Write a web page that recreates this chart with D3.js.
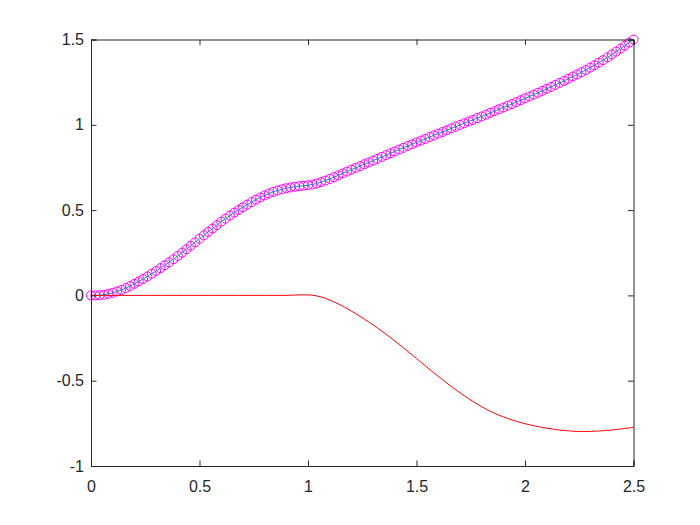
<!DOCTYPE html>
<html>
<head>
<meta charset="utf-8">
<script src="https://cdn.jsdelivr.net/npm/d3@7"></script>
<style>
  html, body { margin: 0; padding: 0; background: #fff; }
  svg { display: block; }
  text { font-family: "Liberation Sans", Arial, Helvetica, sans-serif; }
</style>
</head>
<body>
<script>
// x samples: 0 to 2.5, step 0.02 (126 points)
const xValues = d3.range(126).map(i => +(i * 0.02).toFixed(2));

// Blue curve with magenta circle markers
const blueValues = [
  0.000, 0.000, 0.001, 0.004, 0.009, 0.015, 0.023, 0.032, 0.043, 0.055,
  0.068, 0.082, 0.096, 0.111, 0.127, 0.143, 0.160, 0.177, 0.194, 0.212,
  0.231, 0.251, 0.271, 0.291, 0.311, 0.332, 0.352, 0.372, 0.392, 0.412,
  0.432, 0.450, 0.468, 0.485, 0.501, 0.517, 0.532, 0.547, 0.561, 0.574,
  0.586, 0.597, 0.607, 0.615, 0.622, 0.628, 0.633, 0.637, 0.640, 0.643,
  0.646, 0.650, 0.656, 0.664, 0.673, 0.683, 0.693, 0.704, 0.715, 0.726,
  0.737, 0.748, 0.758, 0.769, 0.779, 0.790, 0.801, 0.812, 0.822, 0.833,
  0.844, 0.855, 0.865, 0.876, 0.886, 0.897, 0.907, 0.917, 0.928, 0.938,
  0.948, 0.958, 0.968, 0.979, 0.989, 0.999, 1.009, 1.019, 1.029, 1.039,
  1.049, 1.059, 1.070, 1.080, 1.091, 1.101, 1.112, 1.122, 1.133, 1.144,
  1.155, 1.166, 1.177, 1.188, 1.199, 1.211, 1.222, 1.234, 1.246, 1.258,
  1.270, 1.283, 1.295, 1.308, 1.321, 1.335, 1.349, 1.364, 1.379, 1.395,
  1.412, 1.429, 1.446, 1.464, 1.482, 1.500
];

// Red curve
const redValues = [
  0, 0, 0, 0, 0, 0, 0, 0, 0, 0,
  0, 0, 0, 0, 0, 0, 0, 0, 0, 0,
  0, 0, 0, 0, 0, 0, 0, 0, 0, 0,
  0, 0, 0, 0, 0, 0, 0, 0, 0, 0,
  0, 0, 0, 0, 0, 0, 0.001, 0.002, 0.003, 0.003,
  0.003, 0.001, -0.003, -0.009, -0.017, -0.027, -0.038, -0.050, -0.063, -0.077,
  -0.092, -0.107, -0.123, -0.139, -0.156, -0.173, -0.191, -0.209, -0.228, -0.247,
  -0.267, -0.287, -0.307, -0.328, -0.349, -0.370, -0.391, -0.412, -0.433, -0.454,
  -0.474, -0.494, -0.514, -0.533, -0.552, -0.570, -0.588, -0.605, -0.621, -0.637,
  -0.652, -0.666, -0.679, -0.691, -0.702, -0.712, -0.721, -0.730, -0.738, -0.745,
  -0.752, -0.758, -0.764, -0.769, -0.774, -0.778, -0.782, -0.786, -0.789, -0.792,
  -0.794, -0.796, -0.797, -0.798, -0.798, -0.797, -0.796, -0.795, -0.793, -0.791,
  -0.789, -0.786, -0.783, -0.780, -0.777, -0.773
];

const xTicks = [0, 0.5, 1, 1.5, 2, 2.5];
const xTickLabels = ["0", "0.5", "1", "1.5", "2", "2.5"];
const yTicks = [-1, -0.5, 0, 0.5, 1, 1.5];
const yTickLabels = ["-1", "-0.5", "0", "0.5", "1", "1.5"];

(function () {
const W = 700, H = 525;
const mLeft = 91, mRight = 633.5, mTop = 39.5, mBottom = 466;
const axisColor = "#262626";

const svg = d3.select("body").append("svg").attr("width", W).attr("height", H);

const x = d3.scaleLinear().domain([0, 2.5]).range([mLeft, mRight]);
const y = d3.scaleLinear().domain([-1, 1.5]).range([mBottom, mTop]);

const blueData = xValues.map((v, i) => [v, blueValues[i]]);
const redData = xValues.map((v, i) => [v, redValues[i]]);

const line = d3.line().x(d => x(d[0])).y(d => y(d[1]));

// magenta circles
svg.append("g").selectAll("circle").data(blueData).join("circle")
  .attr("cx", d => x(d[0])).attr("cy", d => y(d[1])).attr("r", 4.5)
  .attr("fill", "none").attr("stroke", "#ff00ff").attr("stroke-width", 1);

// blue line
svg.append("path").datum(blueData).attr("d", line)
  .attr("fill", "none").attr("stroke", "#1a86d0").attr("stroke-width", 1);

// red line
svg.append("path").datum(redData).attr("d", line)
  .attr("fill", "none").attr("stroke", "#ff0000").attr("stroke-width", 1);

// axes (ticks inward, box)
const tickLen = 5.5;
const fontSize = 16;

const xAxisB = d3.axisBottom(x).tickValues(xTicks).tickSize(-tickLen).tickPadding(15)
  .tickFormat((d, i) => xTickLabels[i]);
const gB = svg.append("g").attr("transform", `translate(0,${mBottom})`).call(xAxisB);

const xAxisT = d3.axisTop(x).tickValues(xTicks).tickSize(-tickLen).tickFormat("");
const gT = svg.append("g").attr("transform", `translate(0,${mTop})`).call(xAxisT);

const yAxisL = d3.axisLeft(y).tickValues(yTicks).tickSize(-tickLen).tickPadding(7)
  .tickFormat((d, i) => yTickLabels[i]);
const gL = svg.append("g").attr("transform", `translate(${mLeft},0)`).call(yAxisL);

const yAxisR = d3.axisRight(y).tickValues(yTicks).tickSize(-tickLen).tickFormat("");
const gR = svg.append("g").attr("transform", `translate(${mRight},0)`).call(yAxisR);

[gB, gT, gL, gR].forEach(g => {
  g.select(".domain").attr("stroke", axisColor).attr("stroke-width", 1);
  g.selectAll(".tick line").attr("stroke", axisColor).attr("stroke-width", 1);
  g.selectAll("text").attr("fill", axisColor).style("font-size", fontSize + "px")
    .style("font-family", '"Liberation Sans", Arial, Helvetica, sans-serif');
});
gB.selectAll("text").attr("dy", "0.71em");
})();
</script>
</body>
</html>
